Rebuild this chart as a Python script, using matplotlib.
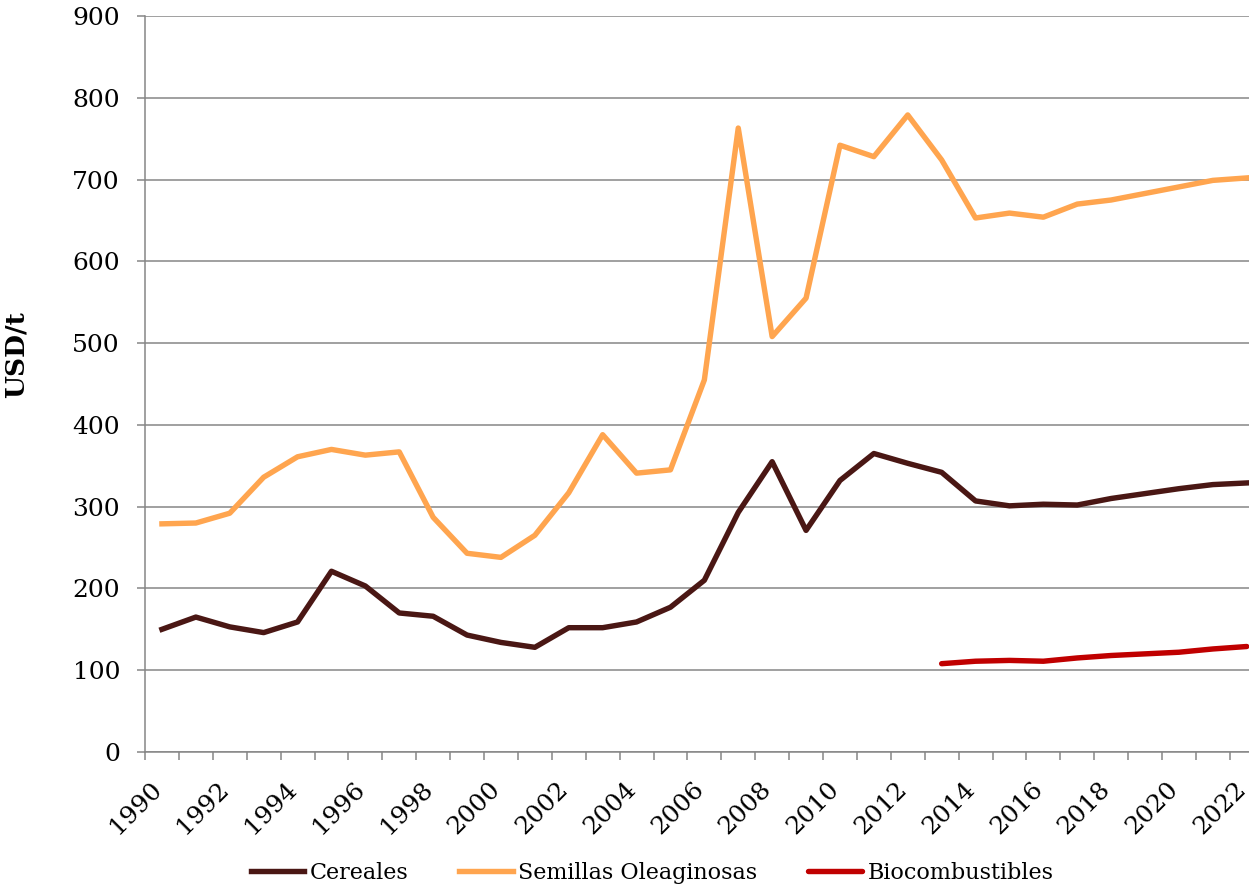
import matplotlib
matplotlib.use("Agg")
import matplotlib.pyplot as plt
from matplotlib.ticker import FixedLocator, MultipleLocator
from matplotlib.transforms import ScaledTranslation

# Data (USD/t)
years = list(range(1990, 2023))
cereales = [150, 165, 153, 146, 159, 221, 203, 170, 166, 143, 134, 128, 152, 152,
            159, 177, 210, 293, 355, 271, 332, 365, 353, 342, 307, 301, 303, 302,
            310, 316, 322, 327, 329]
semillas = [279, 280, 292, 336, 361, 370, 363, 367, 287, 243, 238, 265, 317, 388,
            341, 345, 455, 763, 508, 555, 742, 728, 779, 724, 653, 659, 654, 670,
            675, 683, 691, 699, 702]
bio_years = list(range(2013, 2023))
biocombustibles = [108, 111, 112, 111, 115, 118, 120, 122, 126, 129]

series_names = ["Cereales", "Semillas Oleaginosas", "Biocombustibles"]
colors = ["#4a1714", "#ffa54f", "#c00000"]

plt.rcParams['font.family'] = ['DejaVu Serif']

fig = plt.figure(figsize=(12.49, 8.89), dpi=100)
ax = fig.add_axes([145 / 1249, 1 - 752 / 889, 1104 / 1249, 736 / 889])

x = list(range(len(years)))
bx = [years.index(y) for y in bio_years]
ax.plot(x, cereales, color=colors[0], lw=3.9, label=series_names[0])
ax.plot(x, semillas, color=colors[1], lw=3.9, label=series_names[1])
ax.plot(bx, biocombustibles, color=colors[2], lw=3.9, label=series_names[2], solid_capstyle='round')

ax.set_ylim(0, 900)
ax.set_xlim(-0.5, (1249 - 145) / 33.9 - 0.5)
ax.yaxis.set_major_locator(MultipleLocator(100))
ax.grid(axis='y', color='#868686', lw=1.1)
ax.set_axisbelow(True)

# category axis: tick marks between categories, labels every 2 years
ax.xaxis.set_minor_locator(FixedLocator([i - 0.5 for i in range(len(years) + 1)]))
ax.set_xticks(x[::2])
ax.set_xticklabels([str(y) for y in years[::2]], rotation=45, ha='right', va='top')
ax.tick_params(axis='x', which='major', length=0, pad=18, labelsize=18)
ax.tick_params(axis='x', which='minor', length=6, width=1.1, color='#868686')
ax.tick_params(axis='y', length=6, width=1.1, color='#868686', pad=12, labelsize=18)
shift = ScaledTranslation(4 / 100, 0, fig.dpi_scale_trans)
for lbl in ax.get_xticklabels():
    lbl.set_transform(lbl.get_transform() + shift)

for side in ['top', 'right']:
    ax.spines[side].set_visible(False)
for side in ['left', 'bottom']:
    ax.spines[side].set_color('#868686')
    ax.spines[side].set_linewidth(1.1)

ax.set_ylabel('USD/t', fontsize=19, fontweight='bold')
ax.yaxis.set_label_coords(-0.105, 0.54)

fig.legend(loc='center', bbox_to_anchor=(0.522, 1 - 873 / 889), ncol=3, frameon=False,
           fontsize=16, handlelength=2.4, handletextpad=0.25, columnspacing=2.3)

fig.savefig('out.png', dpi=100)
